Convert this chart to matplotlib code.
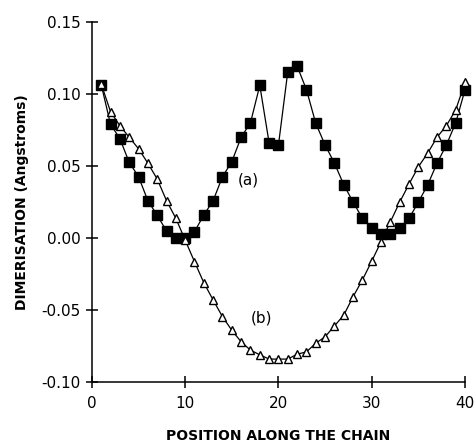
import matplotlib
matplotlib.use("Agg")
import matplotlib.pyplot as plt

positions = list(range(1, 41))

series_a = [0.1065, 0.079, 0.069, 0.0526, 0.0426, 0.026, 0.0158, 0.005, 0.0, 0.0,
            0.0044, 0.016, 0.026, 0.0426, 0.053, 0.070, 0.080, 0.106, 0.066, 0.0646,
            0.1155, 0.1194, 0.103, 0.0796, 0.0646, 0.052, 0.037, 0.025, 0.0137, 0.0067,
            0.003, 0.003, 0.0067, 0.0137, 0.025, 0.037, 0.052, 0.0646, 0.080, 0.103]

series_b = [0.107, 0.0877, 0.078, 0.070, 0.062, 0.052, 0.041, 0.026, 0.0137, -0.0014,
            -0.0164, -0.031, -0.043, -0.0546, -0.064, -0.072, -0.0778, -0.081, -0.084, -0.084,
            -0.084, -0.0806, -0.079, -0.073, -0.0685, -0.061, -0.0535, -0.0407, -0.029, -0.016,
            -0.0025, 0.0113, 0.025, 0.0375, 0.0495, 0.059, 0.070, 0.078, 0.089, 0.108]

xticks = [0, 10, 20, 30, 40]
yticks = [-0.10, -0.05, 0.00, 0.05, 0.10, 0.15]
ytick_labels = ["-0.10", "-0.05", "0.00", "0.05", "0.10", "0.15"]

plt.rcParams['font.family'] = ['DejaVu Sans']

fig = plt.figure(figsize=(4.76, 4.48), dpi=100)
ax = fig.add_axes([0.193, 0.147, 0.784, 0.804])

ax.plot(positions, series_a, color='black', lw=0.9, marker='s', markersize=6.6,
        markerfacecolor='black', markeredgecolor='black', zorder=2)
ax.plot(positions, series_b, color='black', lw=0.9, marker='^', markersize=6.0,
        markerfacecolor='white', markeredgecolor='black', markeredgewidth=1.0, zorder=3)

ax.text(16.8, 0.040, "(a)", fontsize=11, ha='center', va='center')
ax.text(18.2, -0.0556, "(b)", fontsize=11, ha='center', va='center')

ax.set_xlim(0, 40)
ax.set_ylim(-0.10, 0.15)
ax.set_xticks(xticks)
ax.set_yticks(yticks)
ax.set_yticklabels(ytick_labels)

for s in ['top', 'right']:
    ax.spines[s].set_visible(False)
for s in ['left', 'bottom']:
    ax.spines[s].set_linewidth(1.1)

ax.tick_params(axis='both', direction='inout', length=8, width=1.1, labelsize=11)
ax.tick_params(axis='y', pad=4)
ax.tick_params(axis='x', pad=6)
for line in ax.lines:
    line.set_clip_on(False)

ax.set_xlabel("POSITION ALONG THE CHAIN", fontsize=10, fontweight='bold', labelpad=13)
ax.set_ylabel("DIMERISATION (Angstroms)", fontsize=10, fontweight='bold', labelpad=9)

fig.savefig("out.png", dpi=100)
